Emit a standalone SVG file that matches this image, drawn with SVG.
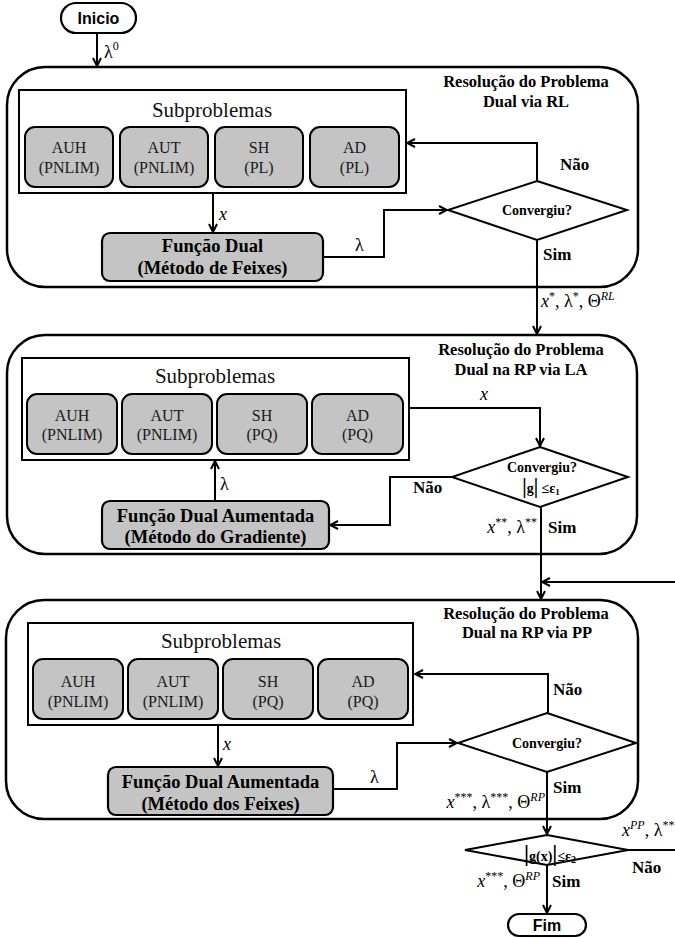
<svg xmlns="http://www.w3.org/2000/svg" width="675" height="938" viewBox="0 0 675 938">
  <style>
    .stage { fill: #ffffff; stroke: #000; stroke-width: 2.5; }
    .sub { fill: #ffffff; stroke: #000; stroke-width: 2; }
    .task { fill: #c4c4c4; stroke: #000; stroke-width: 2; }
    .func { fill: #c4c4c4; stroke: #000; stroke-width: 2.2; }
    .term { fill: #ffffff; stroke: #000; stroke-width: 2.2; }
    .dec { fill: #ffffff; stroke: #000; stroke-width: 2; }
    .wire { fill: none; stroke: #000; stroke-width: 2; }
    .arr { marker-end: url(#head); }
    text { font-family: "Liberation Serif", "Times New Roman", serif; fill: #000; }
    .title { font-size: 16.5px; font-weight: bold; text-anchor: middle; }
    .subt { font-size: 21px; text-anchor: middle; fill: #111; }
    .tl { font-size: 16px; text-anchor: middle; fill: #1a1a1a; }
    .ft { font-size: 18.5px; font-weight: bold; text-anchor: middle; }
    .q { font-size: 14px; font-weight: bold; text-anchor: middle; }
    .yn { font-size: 17px; font-weight: bold; }
    .m { font-size: 18px; }
    .it { font-style: italic; }
    .sup { font-size: 12px; }
    .ts { font-family: "Liberation Sans", Arial, sans-serif; font-size: 16px; font-weight: bold; text-anchor: middle; }
  </style>
  <defs>
    <marker id="head" viewBox="0 0 10 10" refX="9" refY="5" markerWidth="10" markerHeight="10" markerUnits="userSpaceOnUse" orient="auto">
      <path d="M1,1 L9,5 L1,9" fill="none" stroke="#000" stroke-width="2"/>
    </marker>
  </defs>

  <!-- start / end terminals -->
  <g id="inicio">
    <rect class="term" x="61" y="3" width="75" height="30" rx="15"/>
    <text class="ts" x="98.5" y="24">Inicio</text>
  </g>
  <g id="fim">
    <rect class="term" x="508" y="914" width="78" height="22" rx="11"/>
    <text class="ts" x="547" y="931">Fim</text>
  </g>

  <!-- stage 1: dual problem via RL -->
  <g id="stage-rl">
    <rect class="stage" x="7" y="67" width="631" height="220" rx="38"/>
    <text class="title" x="526" y="87">Resolução do Problema</text>
    <text class="title" x="526" y="107">Dual via RL</text>
  </g>
  <g id="sub-rl">
    <rect class="sub" x="19" y="90" width="387" height="103"/>
    <text class="subt" x="212" y="117">Subproblemas</text>
    <rect class="task" x="25" y="127" width="88" height="60" rx="10"/>
    <text class="tl" x="69" y="153">AUH</text><text class="tl" x="69" y="173">(PNLIM)</text>
    <rect class="task" x="120" y="127" width="88" height="60" rx="10"/>
    <text class="tl" x="164" y="153">AUT</text><text class="tl" x="164" y="173">(PNLIM)</text>
    <rect class="task" x="215" y="127" width="88" height="60" rx="10"/>
    <text class="tl" x="259" y="153">SH</text><text class="tl" x="259" y="173">(PL)</text>
    <rect class="task" x="310" y="127" width="89" height="60" rx="10"/>
    <text class="tl" x="354.5" y="153">AD</text><text class="tl" x="354.5" y="173">(PL)</text>
  </g>
  <g id="func-rl">
    <rect class="func" x="102" y="233" width="221" height="48" rx="8"/>
    <text class="ft" x="212.5" y="252">Função Dual</text>
    <text class="ft" x="212.5" y="274">(Método de Feixes)</text>
  </g>
  <g id="conv-rl">
    <polygon class="dec" points="537,181 627,210 537,240 448,210"/>
    <text class="q" x="537" y="215">Convergiu?</text>
  </g>

  <!-- stage 2: dual problem in RP via LA -->
  <g id="stage-la">
    <rect class="stage" x="7" y="335" width="630" height="219" rx="38"/>
    <text class="title" x="521" y="355">Resolução do Problema</text>
    <text class="title" x="521" y="375">Dual na RP via LA</text>
  </g>
  <g id="sub-la">
    <rect class="sub" x="22" y="358" width="387" height="102"/>
    <text class="subt" x="215" y="383">Subproblemas</text>
    <rect class="task" x="27" y="394" width="90" height="60" rx="10"/>
    <text class="tl" x="72" y="421">AUH</text><text class="tl" x="72" y="440">(PNLIM)</text>
    <rect class="task" x="122" y="394" width="90" height="60" rx="10"/>
    <text class="tl" x="167" y="421">AUT</text><text class="tl" x="167" y="440">(PNLIM)</text>
    <rect class="task" x="217" y="394" width="90" height="60" rx="10"/>
    <text class="tl" x="262" y="421">SH</text><text class="tl" x="262" y="440">(PQ)</text>
    <rect class="task" x="312" y="394" width="91" height="60" rx="10"/>
    <text class="tl" x="357.5" y="421">AD</text><text class="tl" x="357.5" y="440">(PQ)</text>
  </g>
  <g id="func-la">
    <rect class="func" x="102" y="501" width="227" height="48" rx="8"/>
    <text class="ft" x="215.5" y="522">Função Dual Aumentada</text>
    <text class="ft" x="215.5" y="543">(Método do Gradiente)</text>
  </g>
  <g id="conv-la">
    <polygon class="dec" points="540,447 628,477 540,507 452,477"/>
    <text class="q" x="542" y="472">Convergiu?</text>
    <text class="q" x="541" y="493"><tspan font-size="20">|</tspan>g<tspan font-size="20">|</tspan> ≤ε<tspan font-size="9" dy="2">1</tspan></text>
  </g>

  <!-- stage 3: dual problem in RP via PP -->
  <g id="stage-pp">
    <rect class="stage" x="6" y="600" width="632" height="219" rx="38"/>
    <text class="title" x="526" y="619">Resolução do Problema</text>
    <text class="title" x="527" y="638">Dual na RP via PP</text>
  </g>
  <g id="sub-pp">
    <rect class="sub" x="28" y="623" width="385" height="102"/>
    <text class="subt" x="221" y="648">Subproblemas</text>
    <rect class="task" x="33" y="659" width="90" height="60" rx="10"/>
    <text class="tl" x="78" y="687">AUH</text><text class="tl" x="78" y="707">(PNLIM)</text>
    <rect class="task" x="128" y="659" width="90" height="60" rx="10"/>
    <text class="tl" x="173" y="687">AUT</text><text class="tl" x="173" y="707">(PNLIM)</text>
    <rect class="task" x="223" y="659" width="90" height="60" rx="10"/>
    <text class="tl" x="268" y="687">SH</text><text class="tl" x="268" y="707">(PQ)</text>
    <rect class="task" x="318" y="659" width="90" height="60" rx="10"/>
    <text class="tl" x="363" y="687">AD</text><text class="tl" x="363" y="707">(PQ)</text>
  </g>
  <g id="func-pp">
    <rect class="func" x="108" y="767" width="225" height="48" rx="8"/>
    <text class="ft" x="220.5" y="788">Função Dual Aumentada</text>
    <text class="ft" x="220.5" y="810">(Método dos Feixes)</text>
  </g>
  <g id="conv-pp">
    <polygon class="dec" points="547,713 636,743 547,772 458,743"/>
    <text class="q" x="547" y="748">Convergiu?</text>
  </g>

  <!-- feasibility check -->
  <g id="check-g">
    <polygon class="dec" points="547,835 628,850 547,865 465,850"/>
    <text class="q" x="550" y="861" font-size="16"><tspan font-size="23">|</tspan>g(x)<tspan font-size="23">|</tspan>≤ε<tspan font-size="10" dy="2">2</tspan></text>
  </g>

  <!-- connectors -->
  <g id="connectors">
    <path class="wire arr" d="M97,33 V66"/>
    <path class="wire arr" d="M213,193 V232"/>
    <path class="wire arr" d="M323,257 H384 V210 H447"/>
    <path class="wire arr" d="M537,181 V143 H407"/>
    <path class="wire arr" d="M537,240 V334"/>
    <path class="wire arr" d="M409,408 H540 V446"/>
    <path class="wire arr" d="M452,477 H390 V525 H330"/>
    <path class="wire arr" d="M215,501 V461"/>
    <path class="wire arr" d="M541,507 V599"/>
    <path class="wire arr" d="M675,582 H542"/>
    <path class="wire arr" d="M218,725 V766"/>
    <path class="wire arr" d="M333,789 H397 V743 H457"/>
    <path class="wire arr" d="M548,713 V674 H415"/>
    <path class="wire arr" d="M547,772 V834"/>
    <path class="wire" d="M628,850 H675"/>
    <path class="wire arr" d="M547,865 V913"/>

    <!-- connector labels -->
    <text class="m" x="104" y="58">λ<tspan class="sup" dy="-8">0</tspan></text>
    <text class="m it" x="219" y="220">x</text>
    <text class="m" x="355" y="251">λ</text>
    <text class="yn" x="560" y="170">Não</text>
    <text class="yn" x="543" y="260">Sim</text>
    <text class="m" x="541" y="307"><tspan class="it">x</tspan><tspan class="sup" dy="-7">*</tspan><tspan dy="7">, λ</tspan><tspan class="sup" dy="-7">*</tspan><tspan dy="7">, Θ</tspan><tspan class="sup it" dy="-7">RL</tspan></text>

    <text class="m it" x="480" y="400">x</text>
    <text class="m" x="220" y="490">λ</text>
    <text class="yn" x="413" y="493">Não</text>
    <text class="m" x="537" y="533" text-anchor="end"><tspan class="it">x</tspan><tspan class="sup" dy="-7">**</tspan><tspan dy="7">, λ</tspan><tspan class="sup" dy="-7">**</tspan></text>
    <text class="yn" x="548" y="533">Sim</text>

    <text class="m it" x="223" y="750">x</text>
    <text class="m" x="370" y="783">λ</text>
    <text class="yn" x="553" y="695">Não</text>
    <text class="yn" x="553" y="793">Sim</text>
    <text class="m" x="545" y="808" text-anchor="end"><tspan class="it">x</tspan><tspan class="sup" dy="-7">***</tspan><tspan dy="7">, λ</tspan><tspan class="sup" dy="-7">***</tspan><tspan dy="7">, Θ</tspan><tspan class="sup it" dy="-7">RP</tspan></text>

    <text class="m" x="622" y="836"><tspan class="it">x</tspan><tspan class="sup it" dy="-7">PP</tspan><tspan dy="7">, λ</tspan><tspan class="sup" dy="-7">**</tspan></text>
    <text class="yn" x="632" y="873">Não</text>
    <text class="m" x="540" y="887" text-anchor="end"><tspan class="it">x</tspan><tspan class="sup" dy="-7">***</tspan><tspan dy="7">, Θ</tspan><tspan class="sup it" dy="-7">RP</tspan></text>
    <text class="yn" x="552" y="887">Sim</text>
  </g>
</svg>
